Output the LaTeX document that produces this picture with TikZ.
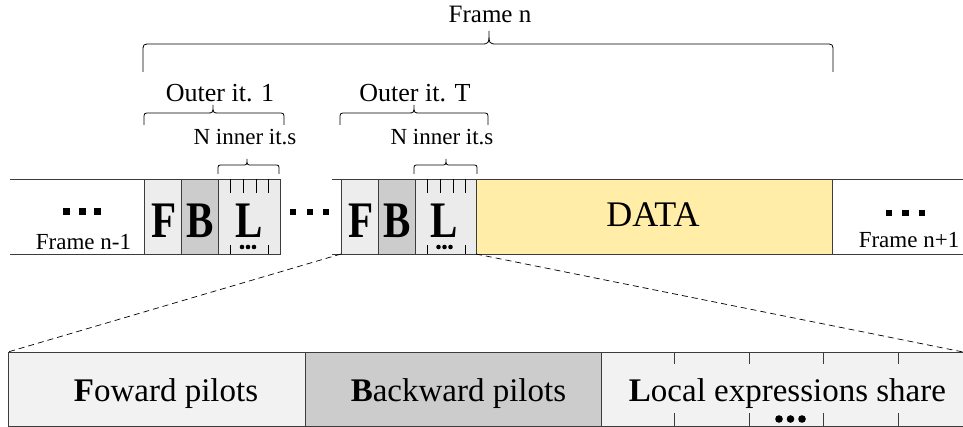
\documentclass[tikz,border=0pt]{standalone}
\usepackage{fontspec}
\setmainfont{Liberation Serif}
\usepackage{graphicx}

\definecolor{linecol}{HTML}{3C3C3C}
\definecolor{fwdfill}{HTML}{EDEDED}
\definecolor{bwdfill}{HTML}{CCCCCC}
\definecolor{locfill}{HTML}{EBEBEB}
\definecolor{datafill}{HTML}{FFEDA8}
\definecolor{zoomfill}{HTML}{F2F2F2}

% curly brace with straight legs: x1, x2, xtip, ylegs, ybar, ytip, corner radius
\newcommand\legbrace[7]{%
  \draw[bracestyle] (#1,#4) -- (#1,#5+#7) .. controls (#1,#5) .. (#1+#7,#5)
    -- (#3-#7,#5) .. controls (#3,#5) .. (#3,#6)
    .. controls (#3,#5) .. (#3+#7,#5)
    -- (#2-#7,#5) .. controls (#2,#5) .. (#2,#5+#7) -- (#2,#4);}

\newcommand\fsz[1]{\fontsize{#1}{#1}\selectfont}
\newcommand\bigletter[1]{\scalebox{1}[1.25]{\fsz{41}\bfseries #1}}

\tikzset{
  cell/.style={draw=linecol, line width=0.9pt, inner sep=0pt, outer sep=0pt,
    minimum height=75pt, anchor=north west},
  zcell/.style={draw=linecol, line width=0.9pt, inner sep=0pt, outer sep=0pt,
    minimum height=74pt, anchor=north west},
  rail/.style={draw=linecol, line width=0.9pt},
  tick/.style={draw=black, line width=0.9pt},
  bracestyle/.style={draw=black, line width=0.8pt},
  lbl/.style={inner sep=0pt, anchor=base},
  zoomline/.style={draw=black, line width=0.7pt, dash pattern=on 6pt off 4pt},
}

\begin{document}
\begin{tikzpicture}[x=1pt, y=-1pt]
\useasboundingbox (0,0) rectangle (963,427);
\clip (0,0) rectangle (963,427);

% ---------- frame strip ----------
\coordinate (railAtop) at (10,179);
\coordinate (railAbot) at (10,254);
\coordinate (railBtop) at (332,179);
\coordinate (railBbot) at (332,254);
\coordinate (railEtop) at (963,179);
\coordinate (railEbot) at (963,254);

% first outer iteration
\node[cell, fill=fwdfill, minimum width=37pt] (F1) at (144,179) {};
\node[cell, fill=bwdfill, minimum width=37pt] (B1) at (181,179) {};
\node[cell, fill=locfill, minimum width=62pt] (L1) at (218,179) {};
% last outer iteration
\node[cell, fill=fwdfill, minimum width=37pt] (F2) at (341,179) {};
\node[cell, fill=bwdfill, minimum width=37pt] (B2) at (378,179) {};
\node[cell, fill=locfill, minimum width=61pt] (L2) at (415,179) {};
\node[cell, fill=datafill, minimum width=356pt] (D) at (476,179) {};

\draw[rail] (railAtop) -- (L1.north east);
\draw[rail] (railAbot) -- (L1.south east);
\draw[rail] (railBtop) -- (railEtop);
\draw[rail] (railBbot) -- (railEbot);

% inner iteration ticks
\foreach \c in {L1,L2}{
  \foreach \dx in {12.5,25.5,38.5,50}
    \draw[tick] (\c.north west) ++(\dx,0) -- ++(0,14);
  \foreach \dx in {12.5,50}
    \draw[tick] (\c.south west) ++(\dx,0) -- ++(0,-9);
  \foreach \dx in {-6,0,6}
    \fill (\c.south) ++(\dx-1,-7) circle (2.3pt);
}

% letters in the cells
\node[lbl] (tF1) at ([xshift=1.5pt]F1.south |- 0,238) {\bigletter{F}};
\node[lbl] (tB1) at ([xshift=0.5pt]B1.south |- 0,238) {\bigletter{B}};
\node[lbl] (tL1) at ([xshift=0pt]L1.south |- 0,238) {\bigletter{L}};
\node[lbl] (tF2) at ([xshift=2pt]F2.south |- 0,238) {\bigletter{F}};
\node[lbl] (tB2) at ([xshift=1pt]B2.south |- 0,238) {\bigletter{B}};
\node[lbl] (tL2) at ([xshift=-1pt]L2.south |- 0,238) {\bigletter{L}};
\node[lbl] (tD) at (653,227) {\fsz{36}DATA};

% ellipsis squares
\foreach \x in {66.5,82.5,97.5} \fill (\x-3.5,208) rectangle ++(7,7);
\foreach \x in {293,310,326} \fill (\x-3.2,209) rectangle ++(6.4,6.4);
\foreach \x in {889,905.5,922} \fill (\x-3.2,210) rectangle ++(6.4,6.4);

\node[lbl] (prev) at (83.5,250) {\fsz{23}Frame n-1};
\node[lbl] (next) at (909,248) {\fsz{23}Frame n+1};

% ---------- braces ----------
\legbrace{143}{833}{489}{72}{44}{31}{8}
\node[lbl] (frame) at (490,23) {\fsz{25}Frame n};

\legbrace{144}{284}{213}{125}{113}{105}{6}
\node[lbl] (outer1) at (220,102) {\fsz{26}Outer it. 1};
\legbrace{340}{488}{414}{125}{113}{105}{6}
\node[lbl] (outerT) at (415,102) {\fsz{26}Outer it. T};

\legbrace{218}{279}{247}{174}{165}{159}{5}
\node[lbl] (inner1) at (245,145) {\fsz{23}N inner it.s};
\legbrace{414}{477}{446}{174}{165}{159}{5}
\node[lbl] (innerT) at (442,145) {\fsz{23}N inner it.s};

% ---------- zoomed view ----------
\node[zcell, fill=zoomfill, minimum width=297pt] (fwd) at (8,352) {};
\node[zcell, fill=bwdfill, minimum width=296pt] (bwd) at (305,352) {};
\node[zcell, fill=zoomfill, minimum width=380pt] (loc) at (601,352) {};
\coordinate (zoomR) at (963,352);

\foreach \dx in {73,148,222,297}{
  \draw[tick, draw=linecol] (loc.north west) ++(\dx,0) -- ++(0,12);
  \draw[tick, draw=linecol] (loc.south west) ++(\dx,0) -- ++(0,-13);
}
\foreach \x in {779,790.5,802} \fill (\x,419) circle (3.8pt);

\node[lbl] (tfwd) at (166,401.5) {\fsz{33}{\bfseries F}oward pilots};
\node[lbl] (tbwd) at (458.5,401) {\fsz{33}{\bfseries B}ackward pilots};
\node[lbl] (tloc) at (787.5,401) {\fsz{33}{\bfseries L}ocal expressions share};

\draw[zoomline] (F2.south west) -- (fwd.north west);
\draw[zoomline] (L2.south east) -- (zoomR);
\end{tikzpicture}
\end{document}
